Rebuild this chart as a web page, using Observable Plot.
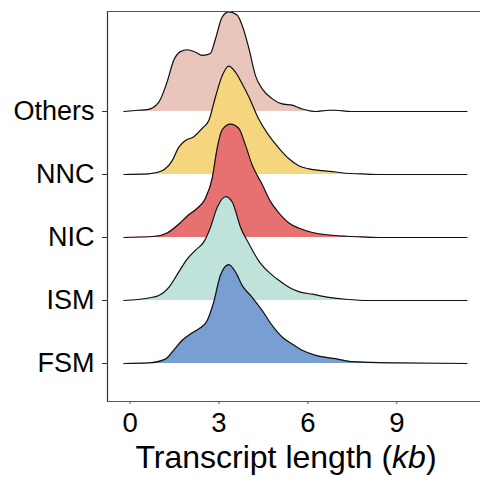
<!DOCTYPE html>
<html>
<head>
<meta charset="utf-8">
<script src="https://cdn.jsdelivr.net/npm/d3@7"></script>
<script src="https://cdn.jsdelivr.net/npm/@observablehq/plot@0.6"></script>
<style>
  html, body { margin: 0; padding: 0; background: #fff; }
  #chart svg { display: block; }
</style>
</head>
<body>
<div id="chart"></div>
<script>
// Categories, bottom to top
const categories = ["FSM", "ISM", "NIC", "NNC", "Others"];
const colors = ["#799ed2", "#bfe3da", "#e67170", "#f6d57f", "#e8c6bb"];
const xTicks = [0, 3, 6, 9];

// Density curves (x in kb, height in row units)
const fsmX = [-0.21, 0.63, 1.19, 1.47, 1.76, 2.04, 2.32, 2.60, 2.82, 3.05, 3.33, 3.56, 3.78, 4.12, 4.46, 4.80, 5.13, 5.47, 5.81, 6.26, 6.71, 7.00, 7.44, 8.89, 11.37];
const fsmH = [0, 0.01, 0.07, 0.21, 0.37, 0.47, 0.55, 0.68, 0.97, 1.40, 1.57, 1.45, 1.24, 1.05, 0.84, 0.60, 0.42, 0.31, 0.21, 0.13, 0.09, 0.07, 0.03, 0.01, 0];

const ismX = [-0.21, 0.63, 0.97, 1.31, 1.64, 1.93, 2.21, 2.49, 2.71, 2.94, 3.22, 3.45, 3.73, 4.01, 4.34, 4.68, 5.02, 5.36, 5.69, 6.15, 6.71, 7.27, 8.11, 11.37];
const ismH = [0, 0.04, 0.08, 0.21, 0.45, 0.66, 0.80, 0.93, 1.16, 1.48, 1.65, 1.56, 1.16, 0.90, 0.63, 0.45, 0.32, 0.21, 0.14, 0.10, 0.05, 0.02, 0, 0];

const nicX = [-0.21, 0.86, 1.25, 1.64, 1.98, 2.26, 2.54, 2.77, 2.94, 3.11, 3.39, 3.67, 3.89, 4.12, 4.46, 4.74, 5.02, 5.36, 5.69, 6.15, 6.71, 7.27, 7.78, 8.45, 11.37];
const nicH = [0, 0.02, 0.07, 0.21, 0.36, 0.46, 0.62, 0.94, 1.42, 1.71, 1.80, 1.73, 1.47, 1.15, 0.84, 0.57, 0.39, 0.23, 0.15, 0.08, 0.04, 0.02, 0.01, 0, 0];

const nncX = [-0.21, 0.63, 1.08, 1.42, 1.64, 1.87, 2.15, 2.43, 2.66, 2.88, 3.11, 3.33, 3.56, 3.78, 4.01, 4.34, 4.68, 5.02, 5.36, 5.69, 6.03, 6.48, 6.93, 7.27, 7.78, 8.45, 11.37];
const nncH = [0, 0.01, 0.06, 0.22, 0.43, 0.54, 0.60, 0.73, 0.86, 1.23, 1.57, 1.72, 1.62, 1.44, 1.23, 0.88, 0.62, 0.42, 0.25, 0.14, 0.09, 0.06, 0.04, 0.02, 0.01, 0, 0];

const othX = [-0.21, 0.29, 0.58, 0.97, 1.25, 1.47, 1.70, 1.93, 2.21, 2.45, 2.71, 2.88, 3.11, 3.33, 3.61, 3.78, 4.01, 4.23, 4.46, 4.80, 5.13, 5.47, 5.81, 6.26, 6.71, 6.93, 7.44, 11.37];
const othH = [0, 0.02, 0.03, 0.15, 0.47, 0.81, 0.95, 0.98, 0.94, 0.89, 0.92, 1.15, 1.50, 1.58, 1.53, 1.37, 1.00, 0.57, 0.36, 0.20, 0.12, 0.10, 0.04, 0, 0.02, 0.02, 0, 0];

const seriesX = [fsmX, ismX, nicX, nncX, othX];
const seriesH = [fsmH, ismH, nicH, nncH, othH];

const font = "'Liberation Sans', Arial, Helvetica, sans-serif";
const curve = "monotone-x";

const rows = categories.map((c, i) =>
  seriesX[i].map((x, j) => ({cat: c, x, base: i, top: i + seriesH[i][j]}))
);

const ridgeMarks = [];
for (let i = categories.length - 1; i >= 0; i--) {
  ridgeMarks.push(
    Plot.areaY(rows[i], {x: "x", y1: "base", y2: "top", fill: colors[i], curve}),
    Plot.lineY(rows[i], {x: "x", y: "top", stroke: "#111", strokeWidth: 1.2, curve})
  );
}

const plot = Plot.plot({
  width: 480,
  height: 477,
  marginLeft: 107,
  marginRight: 0,
  marginTop: 11,
  marginBottom: 76,
  style: {fontFamily: font, background: "#fff", color: "#000"},
  x: {domain: [-0.763, 11.826], axis: null},
  y: {domain: [-0.603, 5.587], axis: null},
  marks: [
    ...ridgeMarks,
    Plot.frame({anchor: "left", stroke: "#333", strokeWidth: 1.2}),
    Plot.frame({anchor: "top", stroke: "#555", strokeWidth: 1.2}),
    Plot.frame({anchor: "bottom", stroke: "#555", strokeWidth: 1.2}),
    Plot.axisY(categories.map((c, i) => i), {
      tickFormat: (d) => categories[d],
      tickSize: 5, tickPadding: 8, fontSize: 27, stroke: "#333", label: null, color: "#000"
    }),
    Plot.axisX(xTicks, {
      tickSize: 3, tickPadding: 8, fontSize: 27.5, stroke: "#555", label: null, color: "#000"
    })
  ]
});

document.getElementById("chart").appendChild(plot);

// Axis title with italic unit
const svg = d3.select(plot);
const t = svg.append("text")
  .attr("x", 286)
  .attr("y", 468)
  .attr("text-anchor", "middle")
  .attr("font-family", font)
  .attr("font-size", 32)
  .attr("fill", "#000");
t.append("tspan").text("Transcript length (");
t.append("tspan").attr("font-style", "italic").text("kb");
t.append("tspan").text(")");
</script>
</body>
</html>
